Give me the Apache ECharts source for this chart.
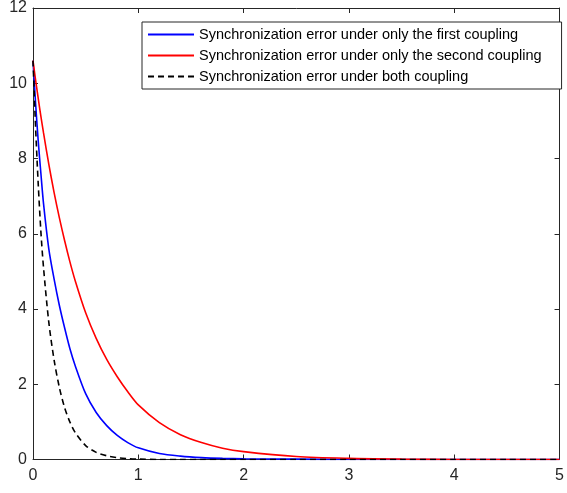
<!DOCTYPE html>
<html><head><meta charset="utf-8">
<script src="https://cdn.jsdelivr.net/npm/echarts@6/dist/echarts.min.js"></script>
<style>html,body{margin:0;padding:0;background:#fff}#c{width:567px;height:493px}</style>
</head><body><div id="c"></div>
<script>
const xs = [0,0.025,0.05,0.075,0.1,0.15,0.2,0.25,0.3,0.35,0.4,0.5,0.6,0.7,0.8,0.9,1.0,1.2,1.4,1.6,1.8,2.0,2.5,3,3.5,4,4.5,5];
const firstCoupling  = [10.6,9.45,8.45,7.6,6.8,5.6,4.8,4.1,3.5,2.95,2.5,1.75,1.25,0.9,0.64,0.45,0.31,0.16,0.09,0.05,0.03,0.02,0.01,0,0,0,0,0];
const secondCoupling = [10.6,10.08,9.59,9.12,8.68,7.85,7.1,6.43,5.82,5.26,4.76,3.9,3.22,2.66,2.2,1.8,1.45,0.98,0.66,0.45,0.3,0.21,0.08,0.03,0.01,0,0,0];
const bothCoupling   = [10.6,8.8,7.3,6.05,5.1,3.65,2.65,1.92,1.38,1.0,0.72,0.37,0.19,0.1,0.05,0.025,0.012,0,0,0,0,0,0,0,0,0,0,0];
const names = ['Synchronization error under only the first coupling','Synchronization error under only the second coupling','Synchronization error under both coupling'];
const xTicks = [0,1,2,3,4,5];
const yTicks = [0,2,4,6,8,10,12];

const pairs = arr => xs.map((x,i)=>[x,arr[i]]);
const font = 'Liberation Sans, Arial, Helvetica, sans-serif';
const axCol = '#262626';
const chart = echarts.init(document.getElementById('c'));
const baseAxis = (pos, max, interval, show) => ({
  type:'value', position:pos, min:0, max:max, interval:interval,
  axisLine:{show:true, onZero:false, lineStyle:{color:axCol, width:1}},
  axisTick:{show:true, inside:true, length:5, lineStyle:{color:axCol}},
  axisLabel:{show:show, color:axCol, fontFamily:font, fontSize:16, margin:(pos==='bottom'?8:6)},
  splitLine:{show:false}
});
chart.setOption({
  animation:false,
  grid:{left:33, right:3, top:7, bottom:33.5, containLabel:false},
  xAxis:[baseAxis('bottom',xTicks[xTicks.length-1],1,true), baseAxis('top',5,1,false)],
  yAxis:[baseAxis('left',yTicks[yTicks.length-1],2,true), baseAxis('right',12,2,false)],
  legend:{
    orient:'vertical', left:142, top:22,
    padding:[5,20,5,5], itemGap:6, itemWidth:46, itemHeight:14, itemTextGap:6,
    borderColor:axCol, borderWidth:1, backgroundColor:'#fff',
    itemStyle:{opacity:0},
    textStyle:{fontFamily:font, fontSize:14.5, color:'#000', lineHeight:14},
    data:names
  },
  series:[
    {name:names[0], type:'line', data:pairs(firstCoupling), symbol:'none', smooth:0.3, lineStyle:{color:'#0000ff', width:1.6}, itemStyle:{color:'#0000ff'}},
    {name:names[1], type:'line', data:pairs(secondCoupling), symbol:'none', smooth:0.3, lineStyle:{color:'#ff0000', width:1.6}, itemStyle:{color:'#ff0000'}},
    {name:names[2], type:'line', data:pairs(bothCoupling), symbol:'none', smooth:0.3, lineStyle:{color:'#000000', width:1.6, type:[6,4]}, itemStyle:{color:'#000000'}}
  ]
});
</script></body></html>
